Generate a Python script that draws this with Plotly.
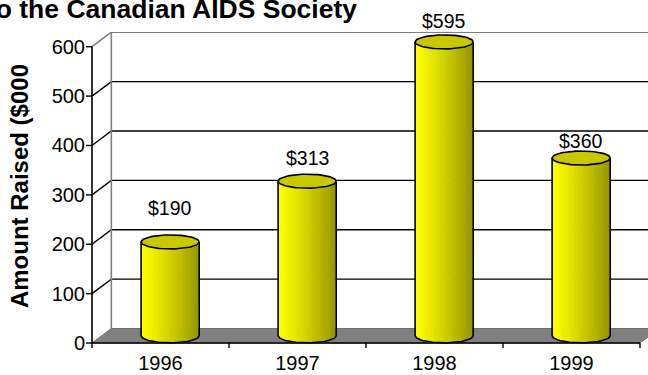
import numpy as np
import plotly.graph_objects as go

# ---- data -------------------------------------------------------------
years = ["1996", "1997", "1998", "1999"]
raised = [190, 313, 595, 360]          # amount raised, $000
value_text = ["$190", "$313", "$595", "$360"]
y_ticks = [0, 100, 200, 300, 400, 500, 600]

# ---- styling ------------------------------------------------------------
FONT = "Arial, 'Liberation Sans', sans-serif"
label_lift = [84, 61, 58, 50]          # how far each value label sits above its value (data units)

# oblique depth of the pseudo-3-D box (data units)
DEPTH_X = 0.141
DEPTH_Y = 29.4
HALF_W = 0.212                          # cylinder radius along x
RY = 14.2                               # vertical half-axis of the end ellipses
X0, X1 = -0.5, 3.5
YMAX = 600
X_LEFT, X_RIGHT = -0.5438, 3.5584
Y_BOTTOM, Y_TOP = -12.1, 629.8
TICK_X = 0.0438                         # y-axis tick length (x units)
TICK_Y = 10.1                           # x-axis tick length (y units)
MARGIN = dict(l=86, r=0, t=32, b=26)
HEIGHT = 375
PX_PER_Y = (HEIGHT - MARGIN["t"] - MARGIN["b"]) / (Y_TOP - Y_BOTTOM)

fig = go.Figure()


def seg_trace(xs, ys, color, width):
    fig.add_trace(go.Scatter(x=xs, y=ys, mode="lines",
                             line=dict(color=color, width=width),
                             hoverinfo="skip", showlegend=False))


# floor
fig.add_trace(go.Scatter(
    x=[X0, X1, X1 + DEPTH_X, X0 + DEPTH_X, X0],
    y=[0, 0, DEPTH_Y, DEPTH_Y, 0],
    mode="lines", fill="toself", fillcolor="#808080",
    line=dict(color="#707070", width=1),
    hoverinfo="skip", showlegend=False))

# back-wall gridlines and the side-wall connectors
far_x = X1 + DEPTH_X + 0.5
gx, gy = [], []
for v in y_ticks[1:-1]:
    gx += [X0, X0 + DEPTH_X, far_x, None]
    gy += [v, v + DEPTH_Y, v + DEPTH_Y, None]
seg_trace(gx, gy, "black", 1.4)

# back-wall outline (grey)
seg_trace([X0, X0 + DEPTH_X, far_x, None, X0 + DEPTH_X, X0 + DEPTH_X],
          [YMAX, YMAX + DEPTH_Y, YMAX + DEPTH_Y, None, DEPTH_Y, YMAX + DEPTH_Y],
          "#808080", 1.6)

# cylinders
N_STRIPS = 26
cx_shift = DEPTH_X / 2
cy_shift = DEPTH_Y / 2


def arc(cx, yc, xa, xb, n=8):
    xs = np.linspace(xa, xb, n)
    u = np.clip((xs - cx) / HALF_W, -1, 1)
    return xs, yc - RY * np.sqrt(1 - u ** 2)


for i, v in enumerate(raised):
    cx = i + cx_shift
    ytop = v + cy_shift
    ybot = cy_shift
    left, right = cx - HALF_W, cx + HALF_W
    edges = np.linspace(left, right, N_STRIPS + 1)
    for k in range(N_STRIPS):
        t = (k + 0.5) / N_STRIPS
        b = 1.0 - 0.42 * t ** 1.2
        c = int(round(255 * b))
        xa = edges[k]
        xb = min(edges[k + 1] + 0.004, right)
        tx, ty = arc(cx, ytop, xa, xb)
        bx, by = arc(cx, ybot, xb, xa)
        fig.add_trace(go.Scatter(
            x=np.concatenate([tx, bx, tx[:1]]),
            y=np.concatenate([ty, by, ty[:1]]),
            mode="lines", fill="toself", fillcolor=f"rgb({c},{c},0)",
            line=dict(width=0), hoverinfo="skip", showlegend=False))
    # body outline
    bx, by = arc(cx, ybot, left, right, 40)
    seg_trace(np.concatenate([[left], bx, [right]]),
              np.concatenate([[ytop], by, [ytop]]), "black", 1.6)
    # top cap
    th = np.linspace(0, 2 * np.pi, 80)
    fig.add_trace(go.Scatter(
        x=cx + HALF_W * np.cos(th), y=ytop + RY * np.sin(th),
        mode="lines", fill="toself", fillcolor="#C8C800",
        line=dict(color="black", width=1.6),
        hoverinfo="skip", showlegend=False))
    # value label, anchored on the value and lifted in pixels
    fig.add_annotation(x=cx, y=v, yshift=label_lift[i] * PX_PER_Y,
                       text=value_text[i], showarrow=False,
                       xanchor="center", yanchor="middle",
                       font=dict(family=FONT, size=19.5, color="black"))

# front axes with their tick marks
seg_trace([X0, X0, X1], [YMAX, 0, 0], "black", 1.6)
tx, ty = [], []
for v in y_ticks:
    tx += [X0 - TICK_X, X0, None]
    ty += [v, v, None]
for b in np.arange(X0, X1 + 0.01, 1.0):
    tx += [b, b, None]
    ty += [0, -TICK_Y, None]
seg_trace(tx, ty, "black", 1.4)

# titles
fig.add_annotation(xref="paper", yref="paper", x=0.486, y=1.127,
                   xanchor="right", yanchor="top", showarrow=False,
                   text="<b>Donations to the Canadian AIDS Society</b>",
                   font=dict(family=FONT, size=26.5, color="black"))
fig.add_annotation(xref="paper", yref="paper", x=-0.1192, y=0.514,
                   xanchor="center", yanchor="middle", showarrow=False,
                   textangle=-90, text="<b>Amount Raised ($000</b>",
                   font=dict(family=FONT, size=24, color="black"))

fig.update_layout(
    width=648, height=HEIGHT,
    margin=MARGIN,
    paper_bgcolor="white", plot_bgcolor="white",
    xaxis=dict(range=[X_LEFT, X_RIGHT], tickvals=[0, 1, 2, 3], ticktext=years,
               ticks="", ticklen=0, showline=False, showgrid=False,
               zeroline=False, tickfont=dict(family=FONT, size=20, color="black")),
    yaxis=dict(range=[Y_BOTTOM, Y_TOP], tickvals=y_ticks, ticks="", ticklen=0,
               showline=False, showgrid=False, zeroline=False,
               tickfont=dict(family=FONT, size=20, color="black")),
)

fig.write_html("out.html")
